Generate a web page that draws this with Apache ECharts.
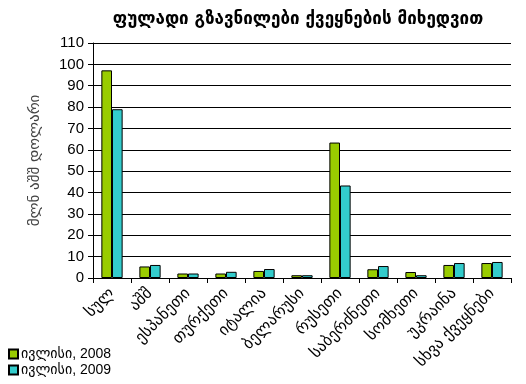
<!DOCTYPE html>
<html><head><meta charset="utf-8">
<script src="https://cdn.jsdelivr.net/npm/echarts@6/dist/echarts.min.js"></script>
<style>html,body{margin:0;padding:0;background:#fff}#c{width:526px;height:384px}</style>
</head><body><div id="c"></div>
<script>
const titleText = 'ფულადი გზავნილები ქვეყნების მიხედვით';
const yAxisName = 'მლნ აშშ დოლარი';
const categories = ['სულ','აშშ','ესპანეთი','თურქეთი','იტალია','ბელარუსი','რუსეთი','საბერძნეთი','სომხეთი','უკრაინა','სხვა ქვეყნები'];
const seriesNames = ['ივლისი, 2008','ივლისი, 2009'];
const values2008 = [97.2, 5.4, 2.1, 2.1, 3.3, 1.3, 63.4, 4.1, 2.8, 6.1, 7.0];
const values2009 = [79.0, 6.1, 2.1, 2.9, 4.2, 1.3, 43.3, 5.6, 1.3, 7.0, 7.5];
const yTicks = {min: 0, max: 110, interval: 10};

const FONT = 'Liberation Sans, DejaVu Sans, sans-serif';
const chart = echarts.init(document.getElementById('c'), null, {renderer: 'canvas'});
chart.setOption({
  animation: false,
  backgroundColor: '#fff',
  title: {text: titleText, left: 293, textAlign: 'center', top: 6,
    textStyle: {fontFamily: 'DejaVu Sans, sans-serif', fontSize: 17, fontWeight: 'bold', color: '#000'}},
  grid: {left: 93, right: 15, top: 43, bottom: 106, containLabel: false},
  legend: {orient: 'vertical', left: 3, top: 342, height: 42, itemWidth: 9, itemHeight: 9, itemGap: 2,
    icon: 'rect', data: seriesNames,
    textStyle: {fontFamily: FONT, fontSize: 14, color: '#000', padding: [0,0,0,-2]}},
  xAxis: {type: 'category', data: categories,
    axisLine: {lineStyle: {color: '#000', width: 1}},
    axisTick: {show: true, length: 5, lineStyle: {color: '#000'}},
    axisLabel: {rotate: 45, interval: 0, margin: 13, fontFamily: 'DejaVu Sans, sans-serif', fontSize: 16, color: '#000'},
    splitLine: {show: false}},
  yAxis: {type: 'value', min: yTicks.min, max: yTicks.max, interval: yTicks.interval,
    name: yAxisName, nameLocation: 'middle', nameGap: 50, nameRotate: 90,
    nameTextStyle: {fontFamily: 'DejaVu Sans, sans-serif', fontSize: 15, color: '#444'},
    axisLine: {show: true, lineStyle: {color: '#000', width: 1}},
    axisTick: {show: true, inside: false, length: 5, lineStyle: {color: '#000'}},
    axisLabel: {fontFamily: FONT, fontSize: 15, color: '#000', margin: 9},
    splitLine: {show: true, lineStyle: {color: '#000', width: 1}}},
  series: [
    {name: seriesNames[0], type: 'bar', data: values2008, barGap: '0%', barCategoryGap: '44%',
      itemStyle: {color: '#99CC00', borderColor: '#000', borderWidth: 1}},
    {name: seriesNames[1], type: 'bar', data: values2009, barGap: '0%', barCategoryGap: '44%',
      itemStyle: {color: '#33CCCC', borderColor: '#000', borderWidth: 1}}
  ]
});
</script></body></html>
